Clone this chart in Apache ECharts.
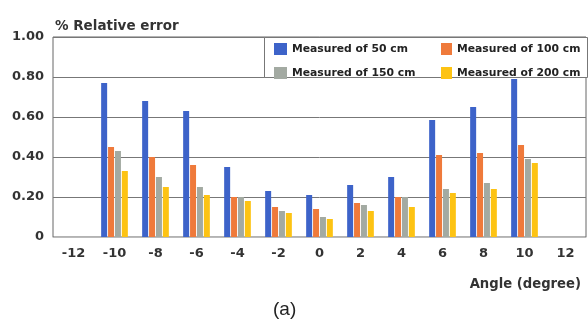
<!DOCTYPE html>
<html><head><meta charset="utf-8">
<script src="https://cdn.jsdelivr.net/npm/echarts@6/dist/echarts.min.js"></script>
<style>html,body{margin:0;padding:0;background:#fff}#c{width:588px;height:319px}</style>
</head><body><div id="c"></div>
<script>
const categories = ['-12','-10','-8','-6','-4','-2','0','2','4','6','8','10','12'];
const s50  = [null,0.77,0.68,0.63,0.35,0.23,0.21,0.26,0.30,0.585,0.65,0.79,null];
const s100 = [null,0.45,0.40,0.36,0.20,0.15,0.14,0.17,0.20,0.41,0.42,0.46,null];
const s150 = [null,0.43,0.30,0.25,0.20,0.13,0.10,0.16,0.20,0.24,0.27,0.39,null];
const s200 = [null,0.33,0.25,0.21,0.18,0.12,0.09,0.13,0.15,0.22,0.24,0.37,null];
const names = ['Measured of 50 cm','Measured of 100 cm','Measured of 150 cm','Measured of 200 cm'];
const colors = ['#3d63c9','#ef7a3b','#a3aaa2','#fdc313'];

const chart = echarts.init(document.getElementById('c'));
const font = 'DejaVu Sans, sans-serif';
const lfont = 'Liberation Sans, Arial, sans-serif';
const legText = {fontSize:10.8,fontWeight:'bold',color:'#222',fontFamily:font};
chart.setOption({
  animation:false,
  color: colors,
  textStyle:{fontFamily:font},
  grid:{left:53,right:2,top:37,bottom:82,show:true,borderColor:'#666',borderWidth:1,backgroundColor:'transparent'},
  title:[
    {text:'% Relative error',left:50,top:14,textStyle:{fontSize:13.5,fontWeight:'bold',color:'#333',fontFamily:font}},
    {text:'Angle (degree)',right:2,top:273,textStyle:{fontSize:13.2,fontWeight:'bold',color:'#333',fontFamily:font}},
    {text:'(a)',left:268,top:295,textStyle:{fontSize:19,fontWeight:'normal',color:'#222',fontFamily:lfont}}
  ],
  graphic:[{type:'rect',left:264,top:37,shape:{width:323,height:40},style:{fill:'#fff',stroke:'#777',lineWidth:1},z:10}],
  legend:[
    {data:[names[0],names[2]],orient:'vertical',left:269,top:38,itemGap:12,itemWidth:13,itemHeight:12,icon:'rect',z:20,textStyle:legText},
    {data:[names[1],names[3]],orient:'vertical',left:436,top:38,itemGap:12,itemWidth:11,itemHeight:12,icon:'rect',z:20,textStyle:legText}
  ],
  xAxis:{type:'category',data:categories,
    axisLine:{show:true,lineStyle:{color:'#bbb'}},axisTick:{show:false},
    axisLabel:{fontSize:13,fontWeight:'bold',color:'#333',margin:10}},
  yAxis:{type:'value',min:0,max:1,interval:0.2,
    axisLine:{show:false},axisTick:{show:false},
    splitLine:{lineStyle:{color:'#777',width:1}},
    axisLabel:{fontSize:13,fontWeight:'bold',color:'#333',margin:9,
      formatter:v=>v===0?'0':v.toFixed(2)}},
  series:[s50,s100,s150,s200].map((d,i)=>({
    name:names[i],type:'bar',data:d,barWidth:6,barGap:'15%',barCategoryGap:'34%'
  }))
});
</script></body></html>
